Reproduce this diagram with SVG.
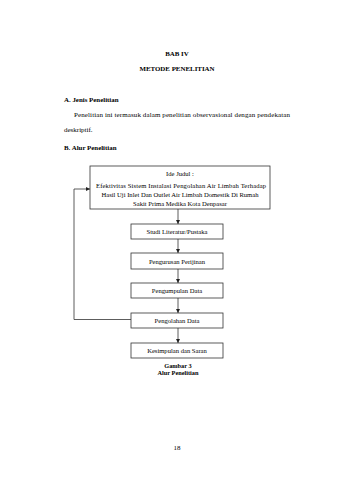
<svg xmlns="http://www.w3.org/2000/svg" width="339" height="480" viewBox="0 0 339 480">
<style>
text{font-family:"Liberation Serif","Times New Roman",serif;fill:#000}
.h{font-size:6.9px;font-weight:bold}
.p{font-size:7px}
.b{font-size:6.6px;text-anchor:middle}
.c{font-size:6.3px;font-weight:bold;text-anchor:middle}
.box{fill:#fff;stroke:#333;stroke-width:0.8}
.ln{fill:none;stroke:#333;stroke-width:0.8}
</style>
<defs>
<marker id="ah" viewBox="0 0 6 6" refX="6" refY="3" markerWidth="4" markerHeight="4" orient="auto" markerUnits="userSpaceOnUse"><path d="M0,0L6,3L0,6z" fill="#222"/></marker>
</defs>
<rect width="339" height="480" fill="#fff"/>
<text class="h" x="177" y="55.5" text-anchor="middle">BAB IV</text>
<text class="h" x="177" y="70.5" text-anchor="middle">METODE PENELITIAN</text>
<text class="h" x="64" y="101.5">A.  Jenis Penelitian</text>
<text class="p" x="74" y="116.5" textLength="216" lengthAdjust="spacing">Penelitian ini termasuk dalam penelitian observasional dengan pendekatan</text>
<text class="p" x="64" y="131.5">deskriptif.</text>
<text class="h" x="64" y="149.5">B.  Alur Penelitian</text>
<g id="connectors">
<line class="ln" x1="178" y1="209" x2="178" y2="224" marker-end="url(#ah)"/>
<line class="ln" x1="178" y1="239" x2="178" y2="253" marker-end="url(#ah)"/>
<line class="ln" x1="178" y1="269" x2="178" y2="283" marker-end="url(#ah)"/>
<line class="ln" x1="178" y1="298" x2="178" y2="313" marker-end="url(#ah)"/>
<line class="ln" x1="178" y1="328" x2="178" y2="343" marker-end="url(#ah)"/>
<polyline class="ln" points="131,319.5 74,319.5 74,189 90,189" marker-end="url(#ah)"/>
</g>
<g id="ide">
<rect class="box" x="90" y="166" width="180" height="43"/>
<text class="b" x="180" y="175.5">Ide Judul :</text>
<text class="b" x="181" y="187.5" textLength="170" lengthAdjust="spacing">Efektivitas Sistem Instalasi Pengolahan Air Limbah Terhadap</text>
<text class="b" x="180" y="196.5">Hasil Uji Inlet Dan Outlet Air Limbah Domestik Di Rumah</text>
<text class="b" x="180" y="205.5">Sakit Prima Medika Kota Denpasar</text>
</g>
<g id="studi">
<rect class="box" x="131" y="224" width="92" height="15"/>
<text class="b" x="177" y="234">Studi Literatur/Pustaka</text>
</g>
<g id="perijinan">
<rect class="box" x="131" y="253" width="92" height="16"/>
<text class="b" x="177" y="263.5">Pengurusan Perijinan</text>
</g>
<g id="pengumpulan">
<rect class="box" x="131" y="283" width="92" height="15"/>
<text class="b" x="177" y="293">Pengumpulan Data</text>
</g>
<g id="pengolahan">
<rect class="box" x="131" y="313" width="92" height="15"/>
<text class="b" x="177" y="323">Pengolahan Data</text>
</g>
<g id="kesimpulan">
<rect class="box" x="131" y="343" width="92" height="15"/>
<text class="b" x="177" y="353">Kesimpulan dan Saran</text>
</g>
<text class="c" x="178" y="367.5">Gambar  3</text>
<text class="c" x="178" y="374.5">Alur Penelitian</text>
<text class="p" x="177" y="449.5" text-anchor="middle">18</text>
</svg>
